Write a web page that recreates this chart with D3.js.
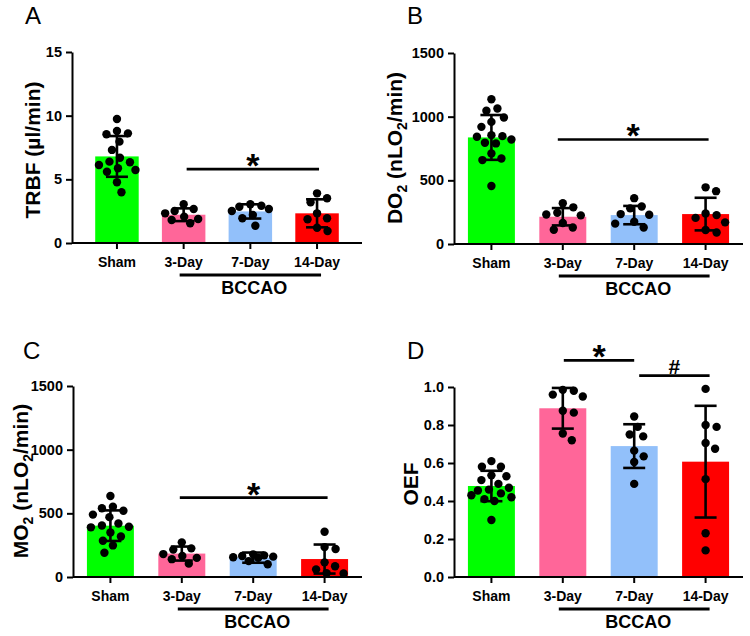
<!DOCTYPE html>
<html><head><meta charset="utf-8">
<script src="https://cdn.jsdelivr.net/npm/d3@7"></script>
<style>
body{margin:0;background:#fff}
text{font-family:"Liberation Sans",Arial,Helvetica,sans-serif}
</style>
</head><body>
<svg id="c" width="750" height="636"></svg>
<script>
// ---------- DATA ----------
const categories = ["Sham", "3-Day", "7-Day", "14-Day"];
const groupLabel = "BCCAO";

const trbfTicks = [0, 5, 10, 15];
const o2Ticks = [0, 500, 1000, 1500];
const oefTicks = [0, 0.2, 0.4, 0.6, 0.8, 1.0];
const oefTickLabels = ["0.0", "0.2", "0.4", "0.6", "0.8", "1.0"];

// Panel A: TRBF
const trbfMean = [6.8, 2.22, 2.48, 2.33];
const trbfSD = [1.6, 0.5, 0.56, 1.1];
const trbfSham = [9.74, 8.8, 8.61, 8.54, 7.96, 7.31, 6.7, 6.39, 6.34, 6.13, 5.87, 5.73, 5.6, 4.77, 3.98];
const trbf3 = [3.04, 2.67, 2.51, 2.33, 2.07, 1.89, 1.81, 1.55];
const trbf7 = [3.04, 2.93, 2.85, 2.67, 2.51, 2.2, 1.94, 1.36];
const trbf14 = [3.9, 3.51, 3.2, 2.33, 1.94, 1.86, 1.2, 0.94];

// Panel B: DO2
const do2Mean = [837, 214, 227, 235];
const do2SD = [176, 68, 72, 128];
const do2Sham = [1137, 1064, 1046, 994, 959, 920, 855, 847, 842, 821, 795, 790, 711, 672, 659, 455];
const do2_3 = [320, 288, 245, 232, 225, 165, 130, 112];
const do2_7 = [360, 295, 280, 235, 230, 175, 160, 130];
const do2_14 = [445, 415, 240, 227, 205, 170, 110, 90];

// Panel C: MO2
const mo2Mean = [403, 184, 152, 141];
const mo2SD = [120, 55, 40, 114];
const mo2Sham = [636, 552, 540, 520, 490, 470, 420, 405, 395, 390, 350, 318, 285, 248, 190];
const mo2_3 = [272, 225, 215, 180, 165, 150, 140, 105];
const mo2_7 = [178, 170, 165, 160, 155, 150, 125, 100];
const mo2_14 = [355, 235, 220, 115, 85, 60, 30, 28];

// Panel D: OEF
const oefMean = [0.479, 0.888, 0.689, 0.607];
const oefSD = [0.08, 0.107, 0.115, 0.294];
const oefSham = [0.61, 0.58, 0.58, 0.535, 0.53, 0.51, 0.49, 0.47, 0.46, 0.455, 0.44, 0.43, 0.42, 0.41, 0.40, 0.30];
const oef3 = [0.985, 0.98, 0.96, 0.95, 0.875, 0.865, 0.755, 0.72];
const oef7 = [0.845, 0.79, 0.75, 0.74, 0.665, 0.635, 0.605, 0.49];
const oef14 = [0.99, 0.80, 0.79, 0.705, 0.675, 0.515, 0.23, 0.14];

// ---------- STYLE / LAYOUT ----------
const colors = ["#00ff00", "#ff6699", "#92c0fa", "#ff0000"];
const FONT = '"Liberation Sans",Arial,Helvetica,sans-serif';

const panels = [
  {letter: "A", letterPos: [25, 24],
   title: [{t: "TRBF (µl/min)"}], titlePos: [40, 150],
   means: trbfMean, sds: trbfSD, pts: [trbfSham, trbf3, trbf7, trbf14],
   domain: [0, 15], ticks: trbfTicks, labels: trbfTicks.map(String),
   axisX: 72, right: 362, y0: 243, yTop: 52, pi: 0.348, po: 0.348,
   sig: [{a: 1, b: 3, v: 5.8, t: "*", dx0: 3, dx1: 2}]},
  {letter: "B", letterPos: [407, 24],
   title: [{t: "DO"}, {t: "2", sub: true}, {t: " (nLO"}, {t: "2", sub: true}, {t: "/min)"}], titlePos: [402, 148],
   means: do2Mean, sds: do2SD, pts: [do2Sham, do2_3, do2_7, do2_14],
   domain: [0, 1500], ticks: o2Ticks, labels: o2Ticks.map(String),
   axisX: 454, right: 743, y0: 244, yTop: 53, pi: 0.342, po: 0.195,
   sig: [{a: 1, b: 3, v: 821, t: "*", dx0: -5, dx1: 3}]},
  {letter: "C", letterPos: [23, 359],
   title: [{t: "MO"}, {t: "2", sub: true}, {t: " (nLO"}, {t: "2", sub: true}, {t: "/min)"}], titlePos: [28, 481],
   means: mo2Mean, sds: mo2SD, pts: [mo2Sham, mo2_3, mo2_7, mo2_14],
   domain: [0, 1500], ticks: o2Ticks, labels: o2Ticks.map(String),
   axisX: 73, right: 362, y0: 577, yTop: 386, pi: 0.342, po: 0.195,
   sig: [{a: 1, b: 3, v: 623, t: "*", dx0: -2, dx1: 3}]},
  {letter: "D", letterPos: [407, 359],
   title: [{t: "OEF"}], titlePos: [418, 484],
   means: oefMean, sds: oefSD, pts: [oefSham, oef3, oef7, oef14],
   domain: [0, 1], ticks: oefTicks, labels: oefTickLabels,
   axisX: 454, right: 743, y0: 577, yTop: 387, pi: 0.342, po: 0.195,
   sig: [{a: 1, b: 2, v: 1.14, t: "*", dx0: 1, dx1: 0},
         {a: 2, b: 3, v: 1.06, t: "#", dx0: 5, dx1: 4}]}
];

const svg = d3.select("#c");
const R = 4.2;

// simple beeswarm restricted to the bar width
function swarm(vals, y, r, maxDx) {
  const order = vals.map((v, i) => ({v, i, py: y(v)})).sort((a, b) => a.py - b.py);
  const placed = [];
  const minD = 2 * r + 2.5;
  for (const p of order) {
    let dx = null, bestScore = -1, bestDx = 0;
    const nMax = Math.floor(maxDx / 0.5) * 2 + 1;
    for (let k = 0; k < nMax; k++) {
      const cand = (k % 2 ? 1 : -1) * Math.ceil(k / 2) * 0.5;
      let md = Infinity;
      for (const q of placed) {
        const ddx = cand - q.dx, ddy = p.py - q.py;
        md = Math.min(md, Math.sqrt(ddx * ddx + ddy * ddy));
      }
      if (md >= minD) { dx = cand; break; }
      if (md > bestScore) { bestScore = md; bestDx = cand; }
    }
    p.dx = dx === null ? bestDx : dx;
    placed.push(p);
  }
  return placed;
}

panels.forEach(P => {
  const g = svg.append("g");
  const x = d3.scaleBand().domain(categories).range([P.axisX, P.right])
    .paddingInner(P.pi).paddingOuter(P.po);
  const y = d3.scaleLinear().domain(P.domain).range([P.y0, P.yTop]);
  const cx = c => x(c) + x.bandwidth() / 2;

  // bars
  g.selectAll("rect.bar").data(categories).join("rect")
    .attr("x", d => x(d)).attr("width", x.bandwidth())
    .attr("y", (d, i) => y(P.means[i]))
    .attr("height", (d, i) => P.y0 - y(P.means[i]))
    .attr("fill", (d, i) => colors[i]);

  // points
  categories.forEach((c, i) => {
    const s = swarm(P.pts[i], y, R, x.bandwidth() / 2 - R + 1);
    g.selectAll(null).data(s).join("circle")
      .attr("cx", d => cx(c) + d.dx).attr("cy", d => d.py)
      .attr("r", R).attr("fill", "#000");
  });

  // error bars
  const capW = 11;
  categories.forEach((c, i) => {
    const m = P.means[i], s = P.sds[i];
    const xc = cx(c);
    const eg = g.append("g").attr("stroke", "#000").attr("stroke-width", 2.6).attr("fill", "none");
    eg.append("line").attr("x1", xc).attr("x2", xc).attr("y1", y(m - s)).attr("y2", y(m + s));
    eg.append("line").attr("x1", xc - capW).attr("x2", xc + capW).attr("y1", y(m + s)).attr("y2", y(m + s));
    eg.append("line").attr("x1", xc - capW).attr("x2", xc + capW).attr("y1", y(m - s)).attr("y2", y(m - s));
  });

  // y axis
  const ya = g.append("g").attr("transform", `translate(${P.axisX},0)`)
    .call(d3.axisLeft(y).tickValues(P.ticks).tickFormat((d, i) => P.labels[i]).tickSize(6).tickSizeOuter(0).tickPadding(4));
  ya.selectAll("path,line").attr("stroke", "#000").attr("stroke-width", 2);
  ya.selectAll("text").attr("font-family", FONT).attr("font-weight", "bold").attr("font-size", 14.5).attr("fill", "#000");

  // x axis
  const xa = g.append("g").attr("transform", `translate(0,${P.y0})`)
    .call(d3.axisBottom(x).tickSize(6).tickSizeOuter(0).tickPadding(6));
  xa.select("path").attr("d", `M${P.axisX},0H${P.right}`);
  xa.selectAll("path,line").attr("stroke", "#000").attr("stroke-width", 2);
  xa.selectAll("text").attr("font-family", FONT).attr("font-weight", "bold").attr("font-size", 14).attr("fill", "#000")
    .attr("dy", null).attr("y", 24);

  // BCCAO bracket
  g.append("line").attr("x1", cx(categories[1]) - 4).attr("x2", cx(categories[3]) + 4)
    .attr("y1", P.y0 + 32).attr("y2", P.y0 + 32).attr("stroke", "#000").attr("stroke-width", 3.2);
  g.append("text").attr("x", (cx(categories[1]) + cx(categories[3])) / 2 + 4).attr("y", P.y0 + 51)
    .attr("text-anchor", "middle").attr("font-weight", "bold").attr("font-size", 18).text(groupLabel);

  // significance
  P.sig.forEach(s => {
    const x1 = cx(categories[s.a]) + s.dx0, x2 = cx(categories[s.b]) + s.dx1;
    const yy = y(s.v);
    g.append("line").attr("x1", x1).attr("x2", x2).attr("y1", yy).attr("y2", yy)
      .attr("stroke", "#000").attr("stroke-width", 2.6);
    if (s.t === "*") {
      g.append("text").attr("x", (x1 + x2) / 2).attr("y", yy + 8).attr("text-anchor", "middle")
        .attr("font-size", 34).attr("font-weight", "bold").text("*");
    } else {
      g.append("text").attr("x", (x1 + x2) / 2).attr("y", yy - 2).attr("text-anchor", "middle")
        .attr("font-size", 21).attr("font-weight", "bold").text(s.t);
    }
  });

  // panel letter
  g.append("text").attr("x", P.letterPos[0]).attr("y", P.letterPos[1])
    .attr("font-size", 24).text(P.letter);

  // y title
  const t = g.append("text").attr("transform", `translate(${P.titlePos[0]},${P.titlePos[1]}) rotate(-90)`)
    .attr("text-anchor", "middle").attr("font-weight", "bold").attr("font-size", 21);
  let shifted = false;
  P.title.forEach(seg => {
    const ts = t.append("tspan").text(seg.t);
    if (seg.sub) { ts.attr("font-size", 14).attr("dy", 5); shifted = true; }
    else if (shifted) { ts.attr("dy", -5); shifted = false; }
  });
});
</script>
</body></html>
